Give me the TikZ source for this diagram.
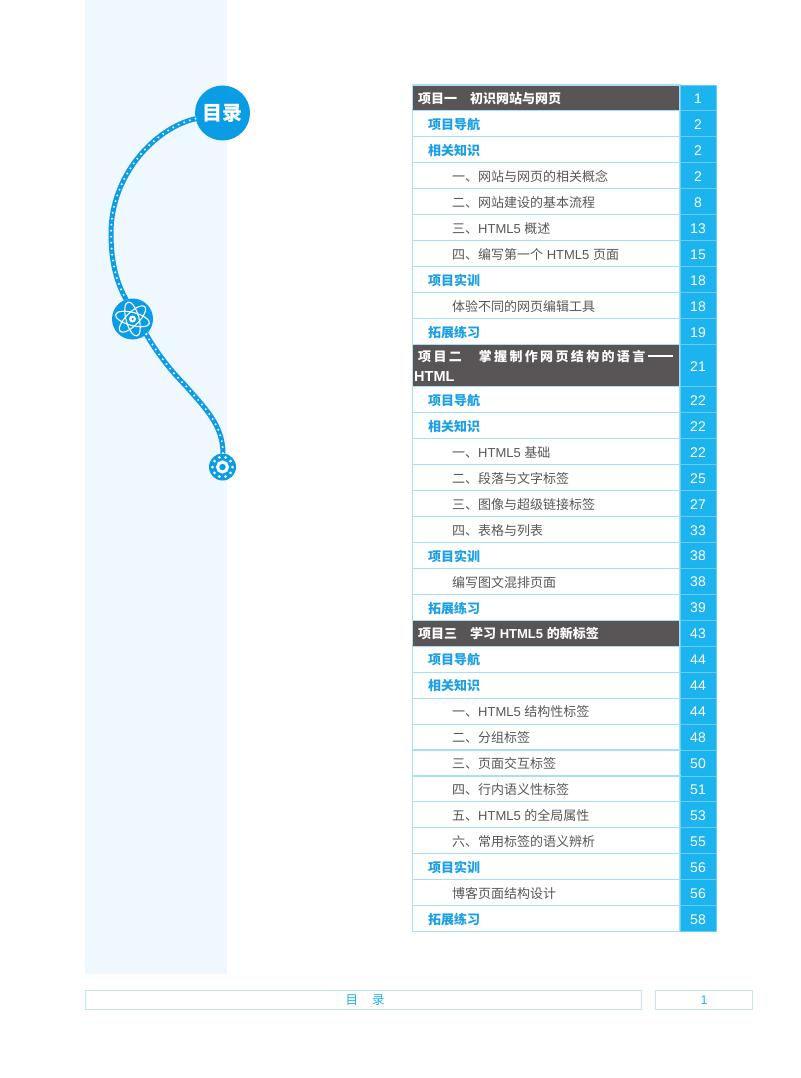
\documentclass[tikz,border=0pt]{standalone}
\usepackage{fontspec}
\usetikzlibrary{shapes.geometric}
\setmainfont{Liberation Sans}
\newfontfamily\cjk{Noto Sans CJK SC}
\newcommand{\C}[1]{{\cjk #1}}
\definecolor{panel}{HTML}{F0F8FF}
\definecolor{tabline}{HTML}{A9DFF6}
\definecolor{numbg}{HTML}{1CB4EE}
\definecolor{headbg}{HTML}{595455}
\definecolor{bluetx}{HTML}{1B9FE6}
\definecolor{graytx}{HTML}{5A5657}
\definecolor{disc}{HTML}{0A9DE5}
\definecolor{foot}{HTML}{BDE6F9}
\newcount\rowno
\newdimen\rowy
\rowy=85pt
\makeatletter
\newcommand{\ry}{\strip@pt\rowy}
\makeatother
\tikzset{
  cell/.style={anchor=north west,minimum width=267.5pt,inner sep=0pt,outer sep=0pt},
  numcell/.style={fill=numbg,anchor=north west,minimum width=36pt,inner sep=0pt,outer sep=0pt},
  cellrule/.style={draw=tabline,line width=1.1pt},
  numrule/.style={draw=tabline!55!numbg,line width=0.9pt},
  numtx/.style={anchor=base,inner sep=0pt,text=white,font=\fontsize{14}{14}\selectfont},
  headtx/.style={anchor=base west,inner sep=0pt,text=white,font=\fontsize{13}{15}\selectfont\bfseries},
  secttx/.style={anchor=base west,inner sep=0pt,text=bluetx,font=\fontsize{13}{15}\selectfont\bfseries},
  subtx/.style={anchor=base west,inner sep=0pt,text=graytx,font=\fontsize{13}{15}\selectfont},
  gdot/.style={circle,fill=white,inner sep=0pt,minimum size=3pt},
  discn/.style={circle,fill=disc,inner sep=0pt,outer sep=0pt},
  trail/.style={line width=5pt,draw=disc},
  trailb/.style={line width=2.2pt,draw=white,line cap=round,dash pattern=on 0pt off 6pt},
  footbox/.style={draw=foot,line width=1.2pt,anchor=north west,minimum height=19pt,inner sep=0pt,text=numbg,font=\fontsize{12.5}{14}\selectfont},
  orbit/.style={draw=white,line width=1.1pt,ellipse,minimum width=35pt,minimum height=13pt,inner sep=0pt}
}
% #1 fill, #2 height, #3 x of text, #4 style, #5 text, #6 number
\newcommand{\tocrow}[6]{%
  \global\advance\rowno by 1
  \node[cell,fill=#1,minimum height=#2pt] (c\the\rowno) at (412.5,\ry) {};
  \draw[cellrule] (c\the\rowno.north west) rectangle (c\the\rowno.south east);
  \node[numcell,minimum height=#2pt] (n\the\rowno) at (680,\ry) {};
  \draw[numrule] (n\the\rowno.north west) rectangle (n\the\rowno.south east);
  \node[numtx] (v\the\rowno) at (698,{\ry+#2/2+5.6}) {#6};
  \ifdim#2pt<30pt
    \node[#4] (t\the\rowno) at (#3,{\ry+18.7}) {#5};
  \else
    \node[#4] (t\the\rowno) at (#3,{\ry+17}) {#5};
  \fi
  \global\advance\rowy by #2pt
}
\newcommand{\rowhead}[2]{\tocrow{headbg}{25.95}{418}{headtx}{#1}{#2}}
\newcommand{\rowsect}[2]{\tocrow{white}{25.95}{428}{secttx}{\C{#1}}{#2}}
\newcommand{\rowsub}[2]{\tocrow{white}{25.95}{452}{subtx}{#1}{#2}}
\begin{document}
\begin{tikzpicture}[x=1pt,y=-1pt]
\useasboundingbox (0,0) rectangle (800,1078);
\fill[white] (0,0) rectangle (800,1078);
\fill[panel] (85,0) rectangle (226.5,974);

% discs
\node[discn,minimum size=55pt] (toc) at (222.5,113) {};
\node[discn,minimum size=41pt] (atom) at (132.5,319) {};
\node[discn,minimum size=27pt] (gear) at (222.5,467) {};
\node[text=white,inner sep=0pt,font=\fontsize{20}{22}\selectfont\bfseries] (toctx) at (toc.center) {\C{目录}};

% trail
\coordinate (m1) at (111,233);
\coordinate (m2) at (184,384);
\foreach \st in {trail,trailb}{
  \draw[\st] (toc.192) .. controls (155,128) and (111,175) .. (m1)
     .. controls (111,258) and (115,280) .. (atom.108);
  \draw[\st] (atom.-48) .. controls (155,350) and (170,370) .. (m2)
     .. controls (205,408) and (223,425) .. (gear.88);
}

% atom icon
\foreach \r [count=\i] in {-15,-75,45}{
  \node[orbit,rotate=\r] (orb\i) at (atom.center) {};
}
\node[circle,fill=white,inner sep=0pt,minimum size=7pt] (nucleus) at (atom.center) {};
\node[circle,fill=disc,inner sep=0pt,minimum size=2.5pt] (nucleusc) at (atom.center) {};

% gear icon
\node[circle,draw=white,line width=3pt,inner sep=0pt,minimum size=10pt] (hub) at (gear.center) {};
\foreach \a [count=\i] in {0,36,...,324}{
  \node[gdot] (g\i) at ([shift={(\a:10)}]gear.center) {};
}

% table
\rowhead{\C{项目一\hspace{13pt}初识网站与网页}}{1}
\rowsect{项目导航}{2}
\rowsect{相关知识}{2}
\rowsub{\C{一、网站与网页的相关概念}}{2}
\rowsub{\C{二、网站建设的基本流程}}{8}
\rowsub{\C{三、}HTML5 \C{概述}}{13}
\rowsub{\C{四、编写第一个} HTML5 \C{页面}}{15}
\rowsect{项目实训}{18}
\rowsub{\C{体验不同的网页编辑工具}}{18}
\rowsect{拓展练习}{19}
\tocrow{headbg}{42.2}{418}{headtx}{{\cjk\addfontfeature{LetterSpace=18}项目二\hspace{17pt}掌握制作网页结构的语言}\hspace{3pt}\rule[5pt]{25pt}{1.4pt}}{21}
\node[headtx,font=\fontsize{14.5}{15}\selectfont\bfseries] (t11b) at (414,381) {HTML};
\rowsect{项目导航}{22}
\rowsect{相关知识}{22}
\rowsub{\C{一、}HTML5 \C{基础}}{22}
\rowsub{\C{二、段落与文字标签}}{25}
\rowsub{\C{三、图像与超级链接标签}}{27}
\rowsub{\C{四、表格与列表}}{33}
\rowsect{项目实训}{38}
\rowsub{\C{编写图文混排页面}}{38}
\rowsect{拓展练习}{39}
\rowhead{\C{项目三\hspace{13pt}学习} HTML5 \C{的新标签}}{43}
\rowsect{项目导航}{44}
\rowsect{相关知识}{44}
\rowsub{\C{一、}HTML5 \C{结构性标签}}{44}
\rowsub{\C{二、分组标签}}{48}
\rowsub{\C{三、页面交互标签}}{50}
\rowsub{\C{四、行内语义性标签}}{51}
\rowsub{\C{五、}HTML5 \C{的全局属性}}{53}
\rowsub{\C{六、常用标签的语义辨析}}{55}
\rowsect{项目实训}{56}
\rowsub{\C{博客页面结构设计}}{56}
\rowsect{拓展练习}{58}

% footer
\node[footbox,minimum width=556pt] (footl) at (85,990) {\hspace{3pt}\C{目\hspace{14pt}录}};
\node[footbox,minimum width=97pt] (footr) at (655,990) {1};
\end{tikzpicture}
\end{document}
